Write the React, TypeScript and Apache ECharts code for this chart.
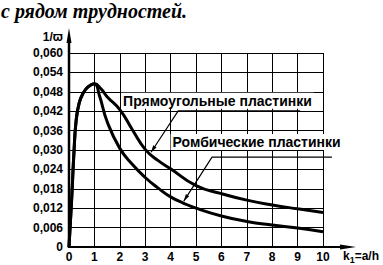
import React, { useEffect, useRef } from 'react';
import * as echarts from 'echarts';

// Tick labels
const xTickLabels = ['0', '1', '2', '3', '4', '5', '6', '7', '8', '9', '10'];
const yTickLabels = ['0', '0,006', '0,012', '0,018', '0,024', '0,030', '0,036', '0,042', '0,048', '0,054', '0,060'];

// Shared rising branch (k1 from 0 to 1)
const riseK = [0, 0.1, 0.2, 0.28, 0.4, 0.56, 0.75, 1];
const riseV = [0, 0.014, 0.03, 0.039, 0.0445, 0.0476, 0.0495, 0.0505];

// Rectangular plates (descending branch)
const rectK = [1.25, 1.5, 2, 2.5, 3, 3.5, 4, 5, 6, 7, 8, 9, 10];
const rectV = [0.049, 0.0465, 0.0425, 0.0362, 0.0302, 0.0268, 0.0242, 0.019, 0.0165, 0.0145, 0.013, 0.0118, 0.0107];

// Rhombic plates (descending branch)
const rhombK = [1.2, 1.5, 2, 2.5, 3, 3.5, 4, 4.5, 5, 6, 7, 8, 9, 10];
const rhombV = [0.0468, 0.0388, 0.0305, 0.0255, 0.0215, 0.0183, 0.0155, 0.0136, 0.012, 0.0096, 0.0079, 0.0068, 0.0059, 0.0047];

// Annotation anchors in data units [k1, value]
const rectLabel = { text: 'Прямоугольные пластинки', at: [2.05, 0.0452], lineEnd: [9.1, 0.0421], elbow: [4.3, 0.0421], tip: [3.23, 0.0293] };
const rhombLabel = { text: 'Ромбические пластинки', at: [4.0, 0.0325], lineEnd: [10.35, 0.0278], elbow: [5.63, 0.0278], tip: [4.52, 0.0142] };

const FONT = '"Liberation Sans", Arial, sans-serif';

export default function App() {
  const ref = useRef<HTMLDivElement>(null);
  useEffect(() => {
    const chart = echarts.init(ref.current!, null, { renderer: 'svg' });
    const rise = riseK.map((k, i) => [k, riseV[i]]);
    const rectData = rise.concat(rectK.map((k, i) => [k, rectV[i]]));
    const rhombData = rise.concat(rhombK.map((k, i) => [k, rhombV[i]]));
    chart.setOption({
      animation: false,
      backgroundColor: '#fff',
      grid: { left: 69, right: 60, top: 53, bottom: 18 },
      xAxis: {
        type: 'value', min: 0, max: 10, interval: 1,
        axisLine: { show: false }, axisTick: { show: false },
        splitLine: { show: true, lineStyle: { color: '#000', width: 1 } },
        axisLabel: {
          formatter: (v: number) => xTickLabels[Math.round(v)],
          color: '#000', fontWeight: 'bold', fontSize: 12, fontFamily: FONT, margin: 4,
        },
      },
      yAxis: {
        type: 'value', min: 0, max: 0.06, interval: 0.006,
        axisLine: { show: false }, axisTick: { show: false },
        splitLine: { show: true, lineStyle: { color: '#000', width: 1 } },
        axisLabel: {
          formatter: (v: number) => yTickLabels[Math.round(v / 0.006)],
          color: '#000', fontWeight: 'bold', fontSize: 12, fontFamily: FONT, margin: 6,
        },
      },
      series: [
        { type: 'line', data: rectData, showSymbol: false, smooth: 0.5, clip: false, lineStyle: { color: '#000', width: 3 } },
        { type: 'line', data: rhombData, showSymbol: false, smooth: 0.5, clip: false, lineStyle: { color: '#000', width: 3 } },
      ],
    });

    const px = (p: number[]) => {
      const r = chart.convertToPixel({ gridIndex: 0 }, p) as number[];
      return [r[0], r[1]];
    };
    const p0 = px([0, 0]);
    const pTop = px([0, 0.06]);
    const pRight = px([10, 0]);

    const arrowHead = (from: number[], to: number[], len: number, half: number) => {
      const dx = to[0] - from[0], dy = to[1] - from[1];
      const d = Math.hypot(dx, dy) || 1;
      const ux = dx / d, uy = dy / d;
      const bx = to[0] - ux * len, by = to[1] - uy * len;
      return [[to[0], to[1]], [bx - uy * half, by + ux * half], [bx + uy * half, by - ux * half]];
    };

    const annot = (a: typeof rectLabel) => {
      const at = px(a.at), end = px(a.lineEnd), elbow = px(a.elbow), tip = px(a.tip);
      return [
        { type: 'polyline', z: 20, shape: { points: [end, elbow, tip] }, style: { stroke: '#000', lineWidth: 1.2, fill: 'none' } },
        { type: 'polygon', z: 20, shape: { points: arrowHead(elbow, tip, 7, 2) }, style: { fill: '#000' } },
        { type: 'text', x: at[0], y: at[1], z: 21,
          style: { text: a.text, fill: '#000', font: `bold 14px ${FONT}`, verticalAlign: 'middle', align: 'left', backgroundColor: '#fff', padding: [1, 2] } },
      ];
    };

    chart.setOption({
      graphic: [
        ...annot(rectLabel),
        ...annot(rhombLabel),
        { type: 'text', x: 1, y: 1, z: 20,
          style: { text: 'с рядом трудностей.', fill: '#000', font: 'italic bold 20px "Liberation Serif", "Times New Roman", serif', verticalAlign: 'top' } },
        { type: 'line', z: 20, shape: { x1: p0[0], y1: p0[1] + 1, x2: p0[0], y2: pTop[1] - 10 }, style: { stroke: '#000', lineWidth: 2.5 } },
        { type: 'polygon', z: 20, shape: { points: [[p0[0] - 2.5, pTop[1] - 10], [p0[0] + 2.5, pTop[1] - 10], [p0[0], pTop[1] - 25]] }, style: { fill: '#000' } },
        { type: 'line', z: 20, shape: { x1: p0[0] - 1, y1: p0[1], x2: pRight[0] + 17, y2: p0[1] }, style: { stroke: '#000', lineWidth: 2 } },
        { type: 'polygon', z: 20, shape: { points: [[pRight[0] + 17, p0[1] - 2.5], [pRight[0] + 17, p0[1] + 2.5], [pRight[0] + 33, p0[1]]] }, style: { fill: '#000' } },
        { type: 'text', x: p0[0] - 6, y: pTop[1] - 16, z: 20,
          style: { text: '1/ϖ', fill: '#000', font: `bold 12px ${FONT}`, align: 'right', verticalAlign: 'middle' } },
        { type: 'text', x: pRight[0] + 20, y: p0[1] + 3, z: 20,
          style: {
            text: '{m|k}{s|1}{m|=a/h}', align: 'left', verticalAlign: 'top',
            rich: {
              m: { fill: '#000', fontWeight: 'bold', fontSize: 12, fontFamily: FONT, lineHeight: 14, verticalAlign: 'top' },
              s: { fill: '#000', fontWeight: 'bold', fontSize: 9, fontFamily: FONT, lineHeight: 14, verticalAlign: 'bottom', padding: [5, 0, 0, 0] },
            },
          } },
      ],
    });
    return () => chart.dispose();
  }, []);
  return <div ref={ref} style={{ position: 'absolute', left: 0, top: 0, width: 383, height: 265 }} />;
}
